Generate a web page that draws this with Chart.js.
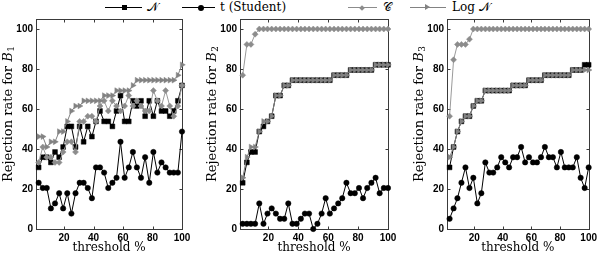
<!DOCTYPE html>
<html><head><meta charset="utf-8">
<script src="https://cdn.jsdelivr.net/npm/chart.js@4.4.1/dist/chart.umd.min.js"></script>
<style>
html,body{margin:0;padding:0;background:#fff;width:600px;height:254px;overflow:hidden;position:relative;}
canvas{position:absolute;top:0;}
.lg{position:absolute;font-family:"DejaVu Serif",serif;font-size:12px;line-height:14px;color:#000;white-space:nowrap;}
.ln{position:absolute;height:1px;}
.mk{position:absolute;}
</style>
</head><body>
<div id="legend"></div>
<canvas id="c1" width="200" height="254" style="left:0px"></canvas>
<canvas id="c2" width="200" height="254" style="left:200px"></canvas>
<canvas id="c3" width="200" height="254" style="left:400px"></canvas>
<script>
const THRESH = [2.8,5.6,8.3,11.1,13.9,16.7,19.4,22.2,25,27.8,30.6,33.3,36.1,38.9,41.7,44.4,47.2,50,52.8,55.6,58.3,61.1,63.9,66.7,69.4,72.2,75,77.8,80.6,83.3,86.1,88.9,91.7,94.4,97.2,100];
const X_TICKS = [20,40,60,80,100];
const Y_TICKS = [0,20,40,60,80,100];
const SERIES_NAMES = ['𝒩','t (Student)','𝒞','Log 𝒩'];
const PANEL_LABELS = ['1','2','3'];

const B1_N    = [30.8,35.9,35.9,33.3,38.5,35.9,41.0,51.3,51.3,41.0,51.3,43.6,51.3,46.2,53.8,59.0,53.8,53.8,51.3,59.0,66.7,53.8,53.8,64.1,61.5,64.1,56.4,64.1,56.4,64.1,59.0,59.0,56.4,59.0,64.1,71.8];
const B1_T    = [23.1,20.5,20.5,10.3,12.8,17.9,10.3,17.9,7.7,17.9,23.1,23.1,20.5,15.4,30.8,30.8,28.2,20.5,23.1,25.6,43.6,25.6,30.8,38.5,30.8,25.6,35.9,23.1,38.5,28.2,33.3,30.8,28.2,28.2,28.2,48.7];
const B1_C    = [33.3,41.0,35.9,35.9,33.3,33.3,38.5,43.6,43.6,38.5,53.8,53.8,56.4,56.4,53.8,61.5,64.1,59.0,64.1,61.5,59.0,61.5,66.7,61.5,64.1,61.5,59.0,59.0,69.2,64.1,61.5,69.2,61.5,56.4,61.5,71.8];
const B1_LOGN = [46.2,46.2,41.0,43.6,43.6,48.7,48.7,53.8,59.0,61.5,61.5,64.1,64.1,64.1,64.1,64.1,66.7,66.7,66.7,69.2,69.2,69.2,69.2,71.8,74.4,74.4,74.4,74.4,74.4,74.4,74.4,74.4,74.4,74.4,76.9,82.1];

const B2_N    = [23.1,33.3,38.5,38.5,48.7,51.3,53.8,56.4,66.7,66.7,71.8,71.8,74.4,74.4,74.4,74.4,74.4,74.4,74.4,74.4,74.4,74.4,76.9,76.9,76.9,76.9,79.5,79.5,79.5,79.5,79.5,79.5,82.1,82.1,82.1,82.1];
const B2_T    = [2.6,2.6,2.6,2.6,12.8,2.6,7.7,10.3,7.7,5.1,5.1,12.8,2.6,2.6,5.1,7.7,7.7,0,2.6,7.7,15.4,7.7,10.3,12.8,15.4,23.1,17.9,17.9,20.5,15.4,20.5,23.1,25.6,17.9,20.5,20.5];
const B2_C    = [76.9,92.3,92.3,97.4,100,100,100,100,100,100,100,100,100,100,100,100,100,100,100,100,100,100,100,100,100,100,100,100,100,100,100,100,100,100,100,100];
const B2_LOGN = [25.6,35.9,41.0,41.0,48.7,53.8,53.8,56.4,66.7,66.7,71.8,71.8,74.4,74.4,74.4,74.4,74.4,74.4,74.4,74.4,74.4,74.4,76.9,76.9,76.9,76.9,79.5,79.5,79.5,79.5,79.5,79.5,82.1,82.1,82.1,82.1];

const B3_N    = [30.8,41.0,48.7,53.8,56.4,56.4,61.5,64.1,64.1,69.2,69.2,69.2,69.2,69.2,69.2,69.2,71.8,71.8,71.8,71.8,74.4,74.4,74.4,74.4,76.9,76.9,76.9,76.9,76.9,76.9,76.9,79.5,79.5,79.5,82.1,82.1];
const B3_T    = [5.1,10.3,15.4,23.1,30.8,20.5,25.6,12.8,17.9,33.3,28.2,28.2,30.8,35.9,33.3,30.8,35.9,35.9,41.0,33.3,35.9,33.3,33.3,35.9,41.0,35.9,35.9,30.8,38.5,30.8,30.8,30.8,35.9,25.6,20.5,30.8];
const B3_C    = [56.4,84.6,92.3,92.3,92.3,94.9,100,100,100,100,100,100,100,100,100,100,100,100,100,100,100,100,100,100,100,100,100,100,100,100,100,100,100,100,100,100];
const B3_LOGN = [35.9,41.0,48.7,53.8,56.4,56.4,61.5,64.1,64.1,69.2,69.2,69.2,69.2,69.2,69.2,69.2,71.8,71.8,71.8,71.8,74.4,74.4,74.4,74.4,76.9,76.9,76.9,76.9,76.9,76.9,76.9,79.5,79.5,79.5,79.5,79.5];

const COL_N = '#000000', COL_T = '#000000', COL_C = '#8c8c8c', COL_L = '#828282';
const AXIS_COL = '#3a3a3a';

// legend (HTML text)
(function(){
  const L = document.getElementById('legend');
  const items = [
    {name:SERIES_NAMES[0], col:COL_N, x0:105, x1:142, mx:124, tx:147, mk:'sq'},
    {name:SERIES_NAMES[1], col:COL_T, x0:182, x1:215, mx:201, tx:220, mk:'ci'},
    {name:SERIES_NAMES[2], col:COL_C, x0:348, x1:377, mx:362, tx:383, mk:'di'},
    {name:SERIES_NAMES[3], col:COL_L, x0:410, x1:446, mx:427, tx:452, mk:'tr'}
  ];
  const cy = 7;
  items.forEach(it=>{
    const ln = document.createElement('div'); ln.className='ln';
    ln.style.left=it.x0+'px'; ln.style.width=(it.x1-it.x0)+'px'; ln.style.top=cy+'px'; ln.style.background=it.col;
    L.appendChild(ln);
    const m = document.createElement('div'); m.className='mk';
    if(it.mk==='sq'){m.style.cssText+=`left:${it.mx-2.5}px;top:${cy-2}px;width:5px;height:5px;background:${it.col};`;}
    if(it.mk==='ci'){m.style.cssText+=`left:${it.mx-3}px;top:${cy-2.5}px;width:6px;height:6px;border-radius:50%;background:${it.col};`;}
    if(it.mk==='di'){m.style.cssText+=`left:${it.mx-2}px;top:${cy-1.5}px;width:4px;height:4px;background:${it.col};transform:rotate(45deg);`;}
    if(it.mk==='tr'){m.style.cssText+=`left:${it.mx-2}px;top:${cy-3}px;width:0;height:0;border-top:3.5px solid transparent;border-bottom:3.5px solid transparent;border-left:5px solid ${it.col};`;}
    L.appendChild(m);
    const t = document.createElement('div'); t.className='lg';
    t.style.left=it.tx+'px'; t.style.top=(cy-7)+'px'; t.textContent=it.name;
    L.appendChild(t);
  });
})();

const boxPlugin = {
  id:'boxTicks',
  beforeDatasetsDraw(chart){
    const {ctx, chartArea:a, scales:{x,y}} = chart;
    ctx.save();
    ctx.strokeStyle = AXIS_COL; ctx.lineWidth = 1;
    const l = Math.round(a.left)+0.5, r = Math.round(a.right)+0.5, t = Math.round(a.top)+0.5, b = Math.round(a.bottom)+0.5;
    ctx.strokeRect(l, t, r-l, b-t);
    const TL = 3;
    ctx.beginPath();
    X_TICKS.forEach(v=>{const px=Math.round(x.getPixelForValue(v))+0.5; ctx.moveTo(px,b); ctx.lineTo(px,b-TL); ctx.moveTo(px,t); ctx.lineTo(px,t+TL);});
    Y_TICKS.forEach(v=>{const py=Math.round(y.getPixelForValue(v))+0.5; ctx.moveTo(l,py); ctx.lineTo(l+TL,py); ctx.moveTo(r,py); ctx.lineTo(r-TL,py);});
    ctx.stroke();
    ctx.restore();
  },
  afterDraw(chart, args, opts){
    const {ctx, chartArea:a} = chart;
    ctx.save();
    ctx.translate(a.left - 27, 182);
    ctx.rotate(-Math.PI/2);
    ctx.fillStyle = '#000';
    ctx.textBaseline = 'middle';
    ctx.textAlign = 'left';
    ctx.font = '13px "DejaVu Serif"';
    const s1 = 'Rejection rate for ';
    ctx.fillText(s1, 0, 0);
    let w = ctx.measureText(s1).width;
    ctx.font = 'italic 13px "DejaVu Serif"';
    ctx.fillText('B', w, 0);
    w += ctx.measureText('B').width;
    ctx.font = '9px "DejaVu Serif"';
    ctx.fillText(opts.sub, w+0.5, 3);
    ctx.restore();
  }
};

function makeChart(id, sub, N, T, C, LG, plotLeft, plotRight){
  const YW = 30;
  const ds = (label, data, col, style, radius, rot, order, lineCol) => ({
    label, data: THRESH.map((t,i)=>({x:t, y:data[i]})),
    borderColor: lineCol || col, backgroundColor: col, pointBorderColor: col, pointBackgroundColor: col,
    borderWidth: 1, pointStyle: style, pointRadius: radius, pointRotation: rot, pointBorderWidth: 0.5,
    order, tension: 0, clip: false
  });
  return new Chart(document.getElementById(id), {
    type:'line',
    data:{datasets:[
      ds(SERIES_NAMES[0], N, COL_N, 'rect', 3.4, 0, 3),
      ds(SERIES_NAMES[1], T, COL_T, 'circle', 2.7, 0, 2),
      ds(SERIES_NAMES[2], C, COL_C, 'rectRot', 3.0, 0, 1, '#9a9a9a'),
      ds(SERIES_NAMES[3], LG, COL_L, 'triangle', 3.3, 90, 0)
    ]},
    options:{
      responsive:false, animation:false, devicePixelRatio:1,
      layout:{padding:{left:plotLeft-YW, right:200-plotRight, top:19, bottom:0}},
      plugins:{legend:{display:false}, tooltip:{enabled:false}, boxTicks:{sub}},
      scales:{
        x:{type:'linear', min:1, max:100,
          afterBuildTicks:(s)=>{s.ticks = X_TICKS.map(v=>({value:v}));},
          afterFit:(s)=>{s.height = 25;},
          grid:{display:false, drawTicks:false}, border:{display:false},
          ticks:{padding:3, color:'#000', font:{family:'"Liberation Sans", Arial', size:10, weight:'bold'}, maxRotation:0, autoSkip:false},
          title:{display:true, text:'threshold %', color:'#000', font:{family:'"DejaVu Serif"', size:12, lineHeight:1}, padding:{top:0,bottom:0}}
        },
        y:{type:'linear', min:0, max:105,
          afterBuildTicks:(s)=>{s.ticks = Y_TICKS.map(v=>({value:v}));},
          afterFit:(s)=>{s.width = YW;},
          grid:{display:false, drawTicks:false}, border:{display:false},
          ticks:{padding:3, color:'#000', font:{family:'"Liberation Sans", Arial', size:10, weight:'bold'}, autoSkip:false}
        }
      }
    },
    plugins:[boxPlugin]
  });
}

makeChart('c1', PANEL_LABELS[0], B1_N, B1_T, B1_C, B1_LOGN, 36, 182);
makeChart('c2', PANEL_LABELS[1], B2_N, B2_T, B2_C, B2_LOGN, 40, 188);
makeChart('c3', PANEL_LABELS[2], B3_N, B3_T, B3_C, B3_LOGN, 47, 192);
</script>
</body></html>
